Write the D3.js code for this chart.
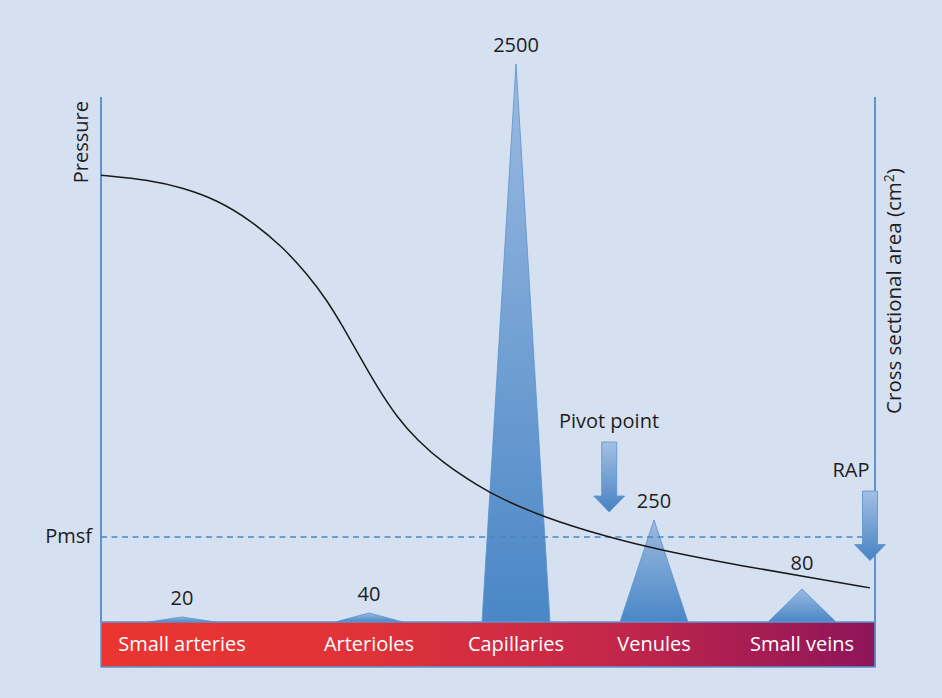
<!DOCTYPE html>
<html>
<head>
<meta charset="utf-8">
<script src="https://cdn.jsdelivr.net/npm/d3@7"></script>
<style>
  html, body { margin: 0; padding: 0; background: #d5e0f1; }
  svg { display: block; }
  text { font-family: "Open Sans", "Noto Sans", sans-serif; }
</style>
</head>
<body>
<svg id="chart" width="942" height="698"></svg>
<script>
// ---- Data ----
const categories = ["Small arteries", "Arterioles", "Capillaries", "Venules", "Small veins"];
const crossSectionalArea = [20, 40, 2500, 250, 80];        // cm^2 labels
// Pressure curve (distance along circulation 0-100, pressure in arbitrary units 0-100)
const curveDistance = [0, 6.33, 10.59, 14.99, 19.25, 23.51, 26.61, 29.20, 31.27, 33.46, 35.66, 38.24, 40.83, 44.19, 48.97, 51.55, 57.11, 65.37, 72.22, 83.46, 91.99, 99.35];
const curvePressure = [85.1, 84.2, 82.7, 80.4, 76.6, 71.4, 66.3, 61.3, 56.2, 50.5, 44.8, 39.0, 34.7, 30.3, 25.7, 23.6, 20.0, 16.2, 13.7, 10.5, 8.4, 6.5];
const pmsfPressure = 16.2;
const rapPressure = 11.7;
const pivotDistance = 65.4;

// ---- Layout ----
const plotLeft = 101, plotRight = 875, plotTop = 97, baseY = 622, barBottom = 667;
const fs = 20;
const svg = d3.select("#chart");
const defs = svg.append("defs");

const xDist = d3.scaleLinear().domain([0, 100]).range([plotLeft, plotRight]);
const yP = d3.scaleLinear().domain([0, 100]).range([baseY, plotTop]);
const xCat = d3.scaleOrdinal().domain(categories).range([182, 369, 516, 654, 802]);
// schematic (non-linear) area scale as drawn in the figure
const yArea = d3.scaleLinear().domain([0, 20, 40, 80, 250, 2500]).range([baseY, 617, 613, 589, 520, 64]);
const halfW = 34;

// gradients
const barGrad = defs.append("linearGradient").attr("id", "barGrad").attr("x1", 0).attr("x2", 1).attr("y1", 0).attr("y2", 0);
[["0%", "#ea3530"], ["35%", "#df3239"], ["65%", "#c52749"], ["100%", "#8e155a"]].forEach(([o, c]) =>
  barGrad.append("stop").attr("offset", o).attr("stop-color", c));
const triGrad = defs.append("linearGradient").attr("id", "triGrad").attr("x1", 0).attr("x2", 0).attr("y1", 0).attr("y2", 1);
[["0%", "#9bbae0"], ["100%", "#4a87c6"]].forEach(([o, c]) =>
  triGrad.append("stop").attr("offset", o).attr("stop-color", c));
const arrGrad = defs.append("linearGradient").attr("id", "arrGrad").attr("x1", 0).attr("x2", 0).attr("y1", 0).attr("y2", 1);
[["0%", "#a2bfe3"], ["100%", "#4783c3"]].forEach(([o, c]) =>
  arrGrad.append("stop").attr("offset", o).attr("stop-color", c));

const axisColor = "#5b94d0";
const textColor = "#1f1c1d";

// axis lines
svg.append("line").attr("x1", plotLeft).attr("x2", plotLeft).attr("y1", plotTop).attr("y2", baseY)
  .attr("stroke", axisColor).attr("stroke-width", 2);
svg.append("line").attr("x1", plotRight).attr("x2", plotRight).attr("y1", plotTop).attr("y2", barBottom)
  .attr("stroke", axisColor).attr("stroke-width", 2);

// triangles (cross sectional area)
const data = categories.map((c, i) => ({ cat: c, area: crossSectionalArea[i] }));
svg.selectAll("path.tri").data(data).enter().append("path").attr("class", "tri")
  .attr("d", d => {
    const cx = xCat(d.cat);
    return `M${cx - halfW},${baseY}L${cx},${yArea(d.area)}L${cx + halfW},${baseY}Z`;
  })
  .attr("fill", "url(#triGrad)").attr("stroke", "#5a92cd").attr("stroke-width", 0.8);

// area labels
svg.selectAll("text.alab").data(data).enter().append("text").attr("class", "alab")
  .attr("x", d => xCat(d.cat))
  .attr("y", d => yArea(d.area) - (d.area === 80 ? 19 : 12))
  .attr("text-anchor", "middle").attr("font-size", fs).attr("fill", textColor)
  .text(d => d.area);

// Pmsf dashed line
svg.append("line").attr("x1", plotLeft).attr("x2", plotRight).attr("y1", yP(pmsfPressure)).attr("y2", yP(pmsfPressure))
  .attr("stroke", "#4a86c5").attr("stroke-width", 1.6).attr("stroke-dasharray", "6,4.5");
svg.append("text").attr("x", 92).attr("y", yP(pmsfPressure) + 6).attr("text-anchor", "end")
  .attr("font-size", fs).attr("fill", textColor).text("Pmsf");

// pressure curve
const pts = curveDistance.map((d, i) => [d, curvePressure[i]]);
svg.append("path").attr("d", d3.line().x(d => xDist(d[0])).y(d => yP(d[1])).curve(d3.curveBasis)(pts))
  .attr("fill", "none").attr("stroke", "#1a1a1a").attr("stroke-width", 1.5);

// bottom bar
svg.append("rect").attr("x", plotLeft).attr("y", baseY).attr("width", plotRight - plotLeft).attr("height", barBottom - baseY)
  .attr("fill", "url(#barGrad)").attr("stroke", axisColor).attr("stroke-width", 1.5);
svg.selectAll("text.cat").data(categories).enter().append("text").attr("class", "cat")
  .attr("x", d => xCat(d)).attr("y", 651).attr("text-anchor", "middle")
  .attr("font-size", fs).attr("fill", "#ffffff").text(d => d);

// arrows
function arrow(cx, yTop, yTip) {
  const sw = 7.5, hw = 15.5, headH = 16;
  const yh = yTip - headH;
  return `M${cx - sw},${yTop}L${cx + sw},${yTop}L${cx + sw},${yh}L${cx + hw},${yh}L${cx},${yTip}L${cx - hw},${yh}L${cx - sw},${yh}Z`;
}
svg.append("path").attr("d", arrow(xDist(pivotDistance) + 2, 442, 512))
  .attr("fill", "url(#arrGrad)").attr("stroke", "#5a92cd").attr("stroke-width", 0.8);
svg.append("text").attr("x", 609).attr("y", 428).attr("text-anchor", "middle")
  .attr("font-size", fs).attr("fill", textColor).text("Pivot point");

svg.append("path").attr("d", arrow(870, 491, yP(rapPressure)))
  .attr("fill", "url(#arrGrad)").attr("stroke", "#5a92cd").attr("stroke-width", 0.8);
svg.append("text").attr("x", 851).attr("y", 477).attr("text-anchor", "middle")
  .attr("font-size", fs).attr("fill", textColor).text("RAP");

// axis titles
svg.append("text").attr("transform", `translate(88,${plotTop + 4}) rotate(-90)`).attr("text-anchor", "end")
  .attr("font-size", fs).attr("fill", textColor).text("Pressure");
const t2 = svg.append("text").attr("transform", `translate(901,291) rotate(-90)`).attr("text-anchor", "middle")
  .attr("font-size", fs + 0.5).attr("fill", textColor);
t2.append("tspan").text("Cross sectional area (cm");
t2.append("tspan").attr("font-size", 14).attr("dy", -7).text("2");
t2.append("tspan").attr("dy", 7).text(")");
</script>
</body>
</html>
